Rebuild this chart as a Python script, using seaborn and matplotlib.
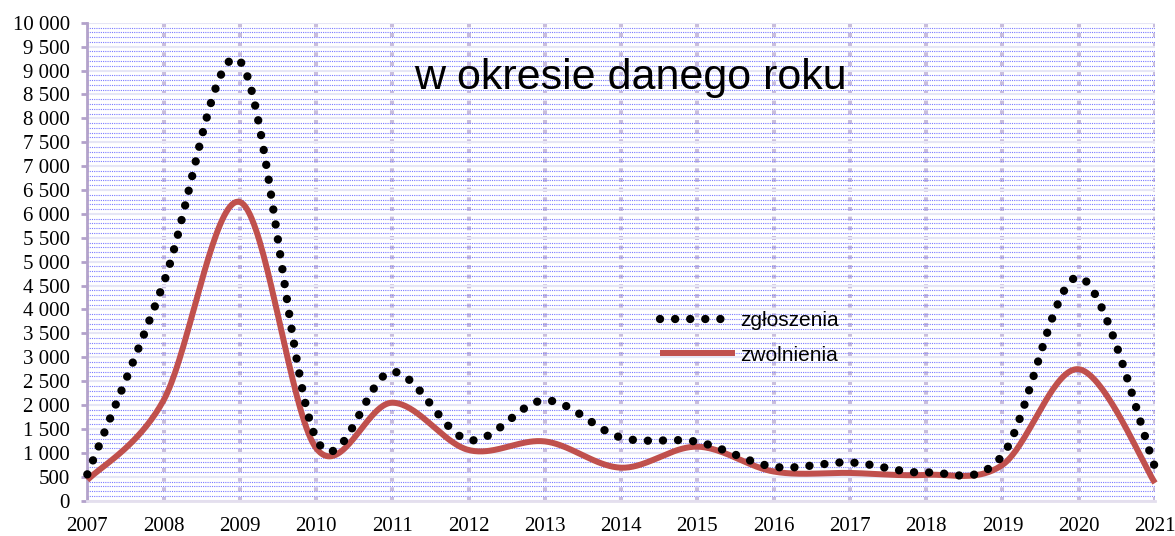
import numpy as np
import pandas as pd
import matplotlib.pyplot as plt
import seaborn as sns
from matplotlib.ticker import MultipleLocator, FuncFormatter

# dane
lata = list(range(2007, 2022))
zgloszenia = [550, 4550, 9200, 1300, 2700, 1270, 2100, 1320, 1230, 710, 800, 590, 950, 4680, 700]
zwolnienia = [430, 2100, 6250, 1100, 2050, 1060, 1240, 690, 1130, 610, 580, 540, 750, 2750, 370]
tytul = "w okresie danego roku"


# wygładzanie linii jak w Excelu (krzywe Beziera typu Catmull-Rom)
def wygladz(x, y, n=40):
    p = np.column_stack([x, y]).astype(float)
    p = np.vstack([p[0], p, p[-1]])
    t = np.linspace(0, 1, n)[:, None]
    czesci = []
    for i in range(1, len(p) - 2):
        c1 = p[i] + (p[i + 1] - p[i - 1]) / 6
        c2 = p[i + 1] - (p[i + 2] - p[i]) / 6
        b = (1 - t) ** 3 * p[i] + 3 * (1 - t) ** 2 * t * c1 + 3 * (1 - t) * t ** 2 * c2 + t ** 3 * p[i + 1]
        czesci.append(b if i == 1 else b[1:])
    b = np.vstack(czesci)
    return pd.DataFrame({"rok": b[:, 0], "wartosc": b[:, 1]})


sns.set_style("white")
plt.rcParams["font.family"] = ["Liberation Sans", "DejaVu Sans"]
plt.rcParams["text.color"] = "black"
plt.rcParams["xtick.labelcolor"] = "black"
plt.rcParams["ytick.labelcolor"] = "black"

fig = plt.figure(figsize=(11.75, 5.36), dpi=100)
ax = fig.add_axes([0.0743, 0.0659, 0.9087, 0.8917])

df_zg = wygladz(lata, zgloszenia)
df_zw = wygladz(lata, zwolnienia)

sns.lineplot(data=df_zg, x="rok", y="wartosc", ax=ax, sort=False, color="black",
             lw=6, linestyle=(0, (0.01, 1.8)), dash_capstyle="round",
             label="zgłoszenia", clip_on=False, zorder=4)
sns.lineplot(data=df_zw, x="rok", y="wartosc", ax=ax, sort=False, color="#c0504d",
             lw=4.3, solid_capstyle="butt", label="zwolnienia", clip_on=False, zorder=3)

ax.set_xlim(2007, 2021)
ax.set_ylim(0, 10000)
ax.xaxis.set_major_locator(MultipleLocator(1))
ax.yaxis.set_major_locator(MultipleLocator(500))
ax.yaxis.set_minor_locator(MultipleLocator(100))
ax.yaxis.set_major_formatter(FuncFormatter(lambda v, p: f"{v:,.0f}".replace(",", " ")))

ax.set_axisbelow(True)
ax.grid(which="major", axis="y", color="#e6e6f6", lw=1.5, ls="-")
ax.grid(which="minor", axis="y", color="#7a7aff", lw=0.8, ls=(0, (1, 1)))
ax.grid(which="major", axis="x", color="#c9bedc", lw=2.9, ls=(0, (1.0, 1.4)))

for s in ["top", "right"]:
    ax.spines[s].set_visible(False)
ax.spines["left"].set_color("#b3a2cb")
ax.spines["left"].set_linewidth(2)
ax.spines["bottom"].set_color("#e4dfee")
ax.spines["bottom"].set_linewidth(2)

ax.tick_params(axis="y", which="major", direction="out", length=4.5, width=2,
               color="#b3a2cb", labelcolor="black", pad=8, left=True)
ax.tick_params(axis="y", which="minor", length=0)
ax.tick_params(axis="x", length=0, pad=12, labelcolor="black")
for lab in ax.get_xticklabels() + ax.get_yticklabels():
    lab.set_fontfamily("Liberation Serif")
    lab.set_fontsize(15)

ax.set_xlabel("")
ax.set_ylabel("")

ax.text(0.509, 0.885, tytul, transform=ax.transAxes, ha="center", va="center",
        fontsize=31, color="black")

leg = ax.legend(loc="upper left", bbox_to_anchor=(0.536, 0.397), frameon=False,
                fontsize=15, handlelength=3.6, handletextpad=0.25, labelspacing=0.75,
                borderpad=0, borderaxespad=0)
for t in leg.get_texts():
    t.set_color("black")

fig.savefig("out.png", dpi=100)
